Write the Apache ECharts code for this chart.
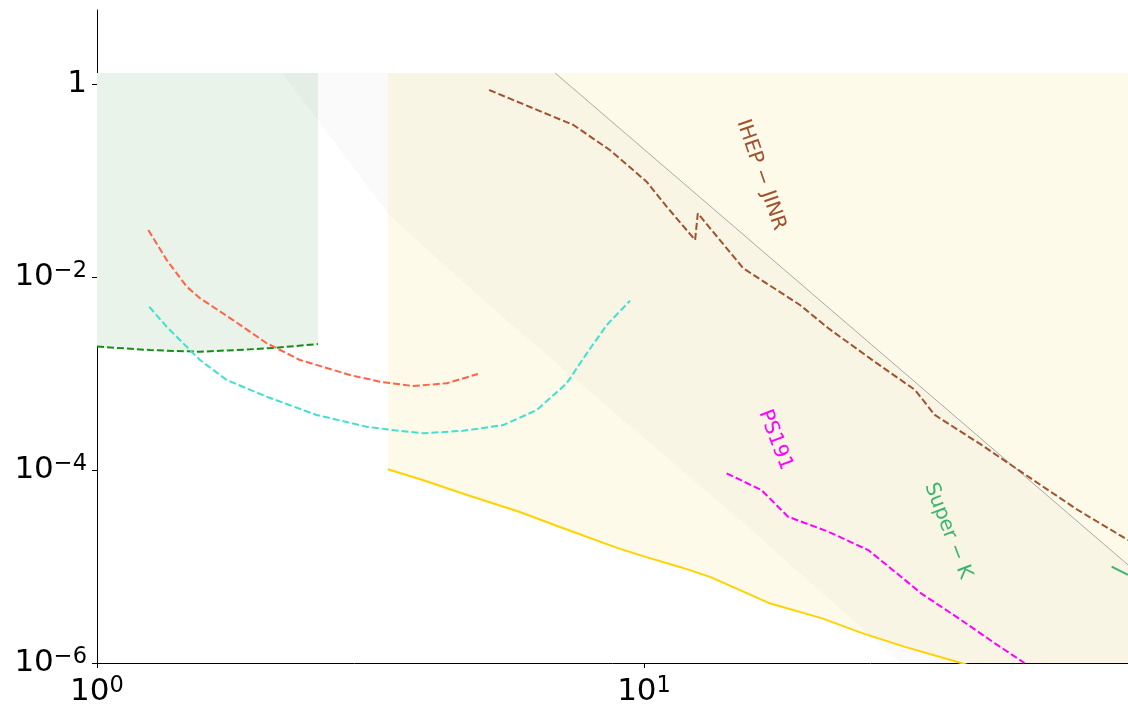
<!DOCTYPE html>
<html><head><meta charset="utf-8">
<script src="https://cdn.jsdelivr.net/npm/echarts@6/dist/echarts.min.js"></script>
<style>html,body{margin:0;padding:0;background:#fff}#c{width:1128px;height:714px}</style>
</head><body><div id="c"></div>
<script>
// ---------- axis ranges & ticks ----------
const xRange = [1, 76.7];
const yRange = [1e-6, 5.85];
const xTickValues = [1, 10];
const xTickLabels = [['10', '0'], ['10', '1']];
const yTickValues = [1e-6, 1e-4, 1e-2, 1];
const yTickLabels = [['10', '\u22126'], ['10', '\u22124'], ['10', '\u22122'], ['1', '']];

// ---------- shaded regions (data coordinates) ----------
const shadeTop = 1.3;
const greenLineX = [1, 1.25, 1.543, 1.905, 2.13, 2.535];
const greenLineY = [1.9e-3, 1.75e-3, 1.68e-3, 1.78e-3, 1.85e-3, 2.02e-3];

const yellowLineX = [3.40, 3.94, 4.75, 5.93, 7.02, 8.93, 10.1, 11.63, 13.2, 14.98, 16.9, 21.1, 24.97, 30.0, 38.0, 44.8];
const yellowLineY = [1.02e-4, 7.87e-5, 5.51e-5, 3.67e-5, 2.57e-5, 1.56e-5, 1.25e-5, 9.9e-6, 7.8e-6, 5.7e-6, 4.19e-6, 2.92e-6, 2.05e-6, 1.47e-6, 1e-6, 7.5e-7];

const grayBandX = [2.18, 6.88, 76.7, 200, 46.7, 29.5, 14.98, 6.82, 5.08, 3.42, 2.55];
const grayBandY = [1.3, 1.3, 1.04e-5, 9.8e-8, 1e-7, 1e-6, 3.03e-5, 1.38e-3, 5.78e-3, 0.0439, 0.404];

const grayLineX = [6.88, 200];
const grayLineY = [1.3, 9.8e-8];

// ---------- curves ----------
const tomatoX = [1.241, 1.341, 1.459, 1.543, 1.773, 2.043, 2.35, 2.90, 3.29, 3.78, 4.36, 4.97];
const tomatoY = [0.0307, 0.015, 7.94e-3, 6.03e-3, 3.58e-3, 2.06e-3, 1.38e-3, 9.65e-4, 8.22e-4, 7.42e-4, 7.93e-4, 9.89e-4];

const turquoiseX = [1.246, 1.341, 1.479, 1.543, 1.726, 2.043, 2.52, 3.11, 3.58, 3.95, 4.67, 5.53, 6.37, 7.22, 7.86, 8.55, 9.43];
const turquoiseY = [4.92e-3, 3.05e-3, 1.75e-3, 1.38e-3, 8.57e-4, 5.75e-4, 3.72e-4, 2.81e-4, 2.54e-4, 2.40e-4, 2.55e-4, 2.92e-4, 4.19e-4, 7.9e-4, 1.62e-3, 3.18e-3, 5.7e-3];

const ihepX = [5.21, 7.43, 8.66, 10.11, 11.0, 12.4, 12.54, 15.19, 19.28, 21.7, 26.0, 31.3, 34.0, 41.4, 50.4, 62.1, 76.7];
const ihepY = [0.867, 0.376, 0.207, 0.0972, 0.0536, 0.0242, 0.0457, 0.0123, 5.13e-3, 2.96e-3, 1.41e-3, 6.75e-4, 3.72e-4, 1.82e-4, 8.53e-5, 3.85e-5, 1.88e-5];

const ps191X = [14.16, 16.39, 18.34, 21.7, 25.7, 29.5, 32.1, 38.0, 43.8, 49.6];
const ps191Y = [9.24e-5, 6.2e-5, 3.28e-5, 2.3e-5, 1.48e-5, 7.84e-6, 5.27e-6, 2.79e-6, 1.6e-6, 1e-6];

const superKX = [71.6, 76.7];
const superKY = [9.96e-6, 8.2e-6];

// ---------- text labels ----------
const labelText = ['IHEP \u2212 JINR', 'PS191', 'Super \u2212 K'];
const labelX = [16.36, 17.38, 35.96];
const labelY = [0.1143, 2.05e-4, 2.34e-5];

// ---------- styles ----------
const labelStyle = [
  { color: '#A0522D', rot: 71 },
  { color: '#FF00FF', rot: 69 },
  { color: '#3CB371', rot: 69 }
];
const FONT = '"DejaVu Sans", "Liberation Sans", sans-serif';

function zip(xs, ys) { return xs.map((x, i) => [x, ys[i]]); }

const greenRegion = [[greenLineX[0], shadeTop], [greenLineX[greenLineX.length - 1], shadeTop]]
  .concat(zip(greenLineX, greenLineY).reverse());
const yellowRegion = [[yellowLineX[0], shadeTop], [300, shadeTop], [300, 1e-8]]
  .concat(zip(yellowLineX, yellowLineY).reverse());
const grayRegion = zip(grayBandX, grayBandY);

function polySeries(verts, color, z) {
  return {
    type: 'custom', silent: true, z: z, clip: true, animation: false,
    data: verts,
    renderItem: function (params, api) {
      if (params.dataIndex !== 0) return null;
      const pts = verts.map(v => api.coord(v));
      const cs = params.coordSys;
      return {
        type: 'polygon',
        shape: { points: pts },
        style: { fill: color },
        clipPath: { type: 'rect', shape: { x: cs.x, y: cs.y, width: cs.width, height: cs.height } }
      };
    }
  };
}

function lineSeries(xs, ys, color, width, dash, z) {
  return {
    type: 'line', data: zip(xs, ys), showSymbol: false, symbol: 'none', silent: true,
    clip: true, animation: false, z: z,
    lineStyle: { color: color, width: width, type: dash }
  };
}

function makeFormatter(vals, labels) {
  return function (v) {
    const e = Math.round(Math.log10(v));
    for (let i = 0; i < vals.length; i++) {
      if (Math.round(Math.log10(vals[i])) === e && Math.abs(Math.log10(v) - e) < 1e-6) {
        const l = labels[i];
        return l[1] ? '{b|' + l[0] + '}{s|' + l[1] + '}' : '{b|' + l[0] + '}';
      }
    }
    return '';
  };
}
const rich = {
  b: { fontSize: 31, fontFamily: FONT, color: '#000', lineHeight: 34 },
  s: { fontSize: 22.5, fontFamily: FONT, color: '#000', lineHeight: 16, verticalAlign: 'top' }
};

const chart = echarts.init(document.getElementById('c'), null, { renderer: 'canvas' });
chart.setOption({
  animation: false,
  backgroundColor: '#fff',
  grid: { left: 97, right: 0, top: 10, bottom: 51, containLabel: false, outerBoundsMode: 'none' },
  xAxis: {
    type: 'log', logBase: 10, min: xRange[0], max: xRange[1], interval: 1,
    axisLine: { show: true, onZero: false, lineStyle: { color: '#000', width: 1 } },
    axisTick: { show: true, inside: false, length: 5, customValues: xTickValues, lineStyle: { color: '#000', width: 1 } },
    minorTick: { show: false },
    splitLine: { show: false },
    axisLabel: { show: true, margin: 12, customValues: xTickValues, formatter: makeFormatter(xTickValues, xTickLabels), rich: rich, showMaxLabel: true, showMinLabel: true }
  },
  yAxis: {
    type: 'log', logBase: 10, min: yRange[0], max: yRange[1], interval: 2,
    axisLine: { show: true, onZero: false, lineStyle: { color: '#000', width: 1 } },
    axisTick: { show: true, inside: false, length: 5, customValues: yTickValues, lineStyle: { color: '#000', width: 1 } },
    minorTick: { show: false },
    splitLine: { show: false },
    axisLabel: { show: true, margin: 10, customValues: yTickValues, formatter: makeFormatter(yTickValues, yTickLabels), rich: rich, align: 'right' }
  },
  series: [
    polySeries(yellowRegion, '#FEFAEA', 1),
    polySeries(greenRegion, '#E9F3E9', 1),
    polySeries(grayRegion, 'rgba(128,128,128,0.045)', 1),
    lineSeries(grayLineX, grayLineY, '#a8a8a8', 1, 'solid', 3),
    lineSeries(yellowLineX, yellowLineY, '#FFD200', 2, 'solid', 3),
    lineSeries(greenLineX, greenLineY, '#1a8a1a', 2, [7, 3], 3),
    lineSeries(tomatoX, tomatoY, '#FF6347', 2, [7, 3], 3),
    lineSeries(turquoiseX, turquoiseY, '#40E0D0', 2, [7, 3], 3),
    lineSeries(ihepX, ihepY, '#A0522D', 2, [7, 3], 3),
    lineSeries(ps191X, ps191Y, '#FF00FF', 2, [7, 3], 3),
    lineSeries(superKX, superKY, '#3CB371', 2, 'solid', 3),
    {
      type: 'custom', silent: true, z: 4, animation: false,
      data: zip(labelX, labelY),
      renderItem: function (params, api) {
        const i = params.dataIndex;
        const p = api.coord([api.value(0), api.value(1)]);
        return {
          type: 'text', x: p[0], y: p[1], rotation: -labelStyle[i].rot * Math.PI / 180,
          style: { text: labelText[i], fill: labelStyle[i].color, font: '20px ' + FONT, align: 'center', verticalAlign: 'middle' }
        };
      }
    }
  ]
});
</script>
</body></html>
